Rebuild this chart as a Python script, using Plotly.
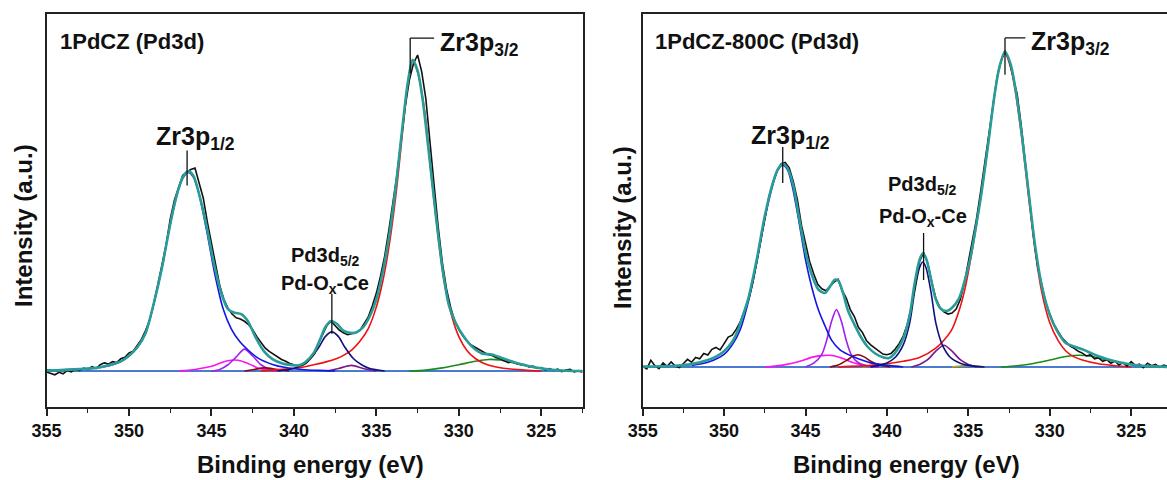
import plotly.graph_objects as go

# ---------------- LEFT PANEL: 1PdCZ ----------------
# raw data, 0.25 eV steps starting at 355 eV (rows of 1 eV)
L_raw = [
    -0.3, -0.8, -1.2, -0.4,
    -0.9, 0.2, -0.3, 0.6,
    0.1, 0.9, 0.5, 1.4,
    0.8, 2.0, 2.6, 2.2,
    3.0, 2.7, 3.9, 4.4,
    5.8, 6.3, 8.4, 10.1,
    12.9, 16.3, 21.5, 27.4,
    34.0, 40.5, 48.6, 54.6,
    58.8, 62.5, 63.6, 64.4,
    64.9, 60.4, 55.3, 47.6,
    40.6, 34.2, 27.3, 22.9,
    20.1, 18.2, 17.0, 16.6,
    15.9, 14.8, 13.2, 11.0,
    9.2, 7.4, 6.3, 5.4,
    4.5, 3.7, 3.1, 2.4,
    2.0, 1.6, 1.8, 2.5,
    3.9, 5.6, 8.9, 11.8,
    14.6, 15.9, 14.4, 13.1,
    12.2, 11.6, 11.9, 12.2,
    13.0, 14.9, 17.2, 20.8,
    24.9, 30.3, 36.6, 44.8,
    53.5, 62.8, 74.0, 84.6,
    93.0, 98.3, 101.0, 95.6,
    87.0, 74.2, 59.5, 46.0,
    34.6, 26.3, 20.4, 16.0,
    13.2, 11.2, 9.5, 8.3,
    7.5, 6.7, 6.1, 5.3,
    5.0, 4.3, 3.9, 3.4,
    2.7, 3.0, 2.3, 2.0,
    2.1, 1.3, 1.6, 0.8,
    1.1, 0.4, 0.8, 0.2,
    0.6, -0.2, 0.3, 0.5,
    -0.3, 0.1, -0.4,
]
RAW_START = 355.0
RAW_STEP = 0.25

L_env_x = [355, 354, 353, 352, 351, 350.5, 350, 349.5, 349, 348.5, 348, 347.7, 347.3, 347, 346.7, 346.4,
           346.1, 345.7, 345.3, 344.9, 344.4, 344, 343.6, 343.2, 342.8, 342.3, 341.8, 341.3, 340.7, 340.2,
           339.7, 339.3, 338.8, 338.4, 338.1, 337.75, 337.4, 337.0, 336.6, 336.2, 335.8, 335.4, 335.0,
           334.6, 334.2, 333.8, 333.4, 333.1, 332.8, 332.5, 332.2, 331.8, 331.4, 331.0, 330.6, 330.2,
           329.7, 329.2, 328.6, 328.0, 327.3, 326.5, 325.5, 324.5, 323.5, 322.5]
L_env_y = [0.2, 0.3, 0.6, 1.0, 2.2, 3.1, 4.9, 7.6, 12.1, 21.6, 33.1, 41.5, 52, 58.2, 62.3, 63.8,
           62.4, 55.5, 46.3, 35.5, 24.8, 19.8, 18.6, 18.2, 16, 10.5, 6.2, 3.8, 2.4, 1.9,
           1.8, 2.9, 5.8, 10.3, 14, 16, 15.1, 12.9, 12.2, 12.4, 14, 17.5, 23,
           32, 44, 60, 79, 92, 99.5, 96, 87, 69, 50, 33, 21, 15.5,
           11, 7.8, 5.6, 5.3, 4.0, 2.6, 1.3, 0.5, 0.1, 0]

L_blue_x = [355, 353, 352, 351, 350.5, 350, 349.5, 349, 348.5, 348, 347.5, 347, 346.7, 346.4, 346.1, 345.8,
            345.3, 344.8, 344.3, 343.8, 343.3, 342.8, 342.2, 341.3, 340.5, 339.5, 338.5, 337.5]
L_blue_y = [0.3, 0.6, 1.0, 2.0, 3.0, 4.8, 7.5, 12, 21.5, 33, 47, 58, 62, 63.5, 62, 57.5,
            45, 31, 20, 13.5, 9.5, 6.8, 4.2, 2.1, 1.1, 0.5, 0.2, 0]
L_violet_x = [345, 344.5, 344, 343.5, 343.0, 342.5, 342, 341.5, 341]
L_violet_y = [0, 0.5, 2, 4.5, 7, 4.8, 2, 0.6, 0]
L_magenta_x = [347, 346, 345, 344.5, 344, 343.6, 343.2, 342.7, 342.2, 341.5, 341]
L_magenta_y = [0, 0.5, 1.5, 2.5, 3.3, 3.5, 3.2, 2.2, 1.0, 0.3, 0]
L_darkred_x = [343, 342.5, 341.8, 341, 340.3]
L_darkred_y = [0, 0.4, 1.0, 0.5, 0]
L_navy_x = [341, 340, 339.5, 339, 338.5, 338.1, 337.7, 337.3, 336.9, 336.4, 335.9, 335.4, 334.5]
L_navy_y = [0, 0.8, 2, 4, 7.5, 11, 12.5, 11, 7.5, 4, 2, 0.8, 0]
L_purple_x = [338, 337.3, 336.5, 335.8, 335]
L_purple_y = [0, 0.8, 1.8, 0.8, 0]
L_red_x = [342, 340.5, 339.5, 338.8, 338, 337.4, 337, 336.5, 336, 335.5, 335, 334.6, 334.2, 333.8, 333.4,
           333.1, 332.8, 332.5, 332.1, 331.7, 331.3, 330.9, 330.4, 330, 329.5, 329, 328.5, 328, 327, 326, 325]
L_red_y = [0, 0.6, 1.2, 2.0, 3.0, 4.0, 5, 6.7, 9.5, 13.5, 20.5, 29, 41, 57, 77,
           91, 99, 95.5, 84, 64, 45, 29, 17, 11, 6.5, 4, 2.5, 1.6, 0.7, 0.3, 0]
L_green_x = [333, 332, 331, 330, 329, 328.2, 327.5, 326.5, 325.5, 324.5, 323.5, 322.5]
L_green_y = [0, 0.3, 1.0, 2.0, 3.1, 3.7, 3.5, 2.4, 1.2, 0.5, 0.1, 0]

# ---------------- RIGHT PANEL: 1PdCZ-800C ----------------
R_raw = [
    0.2, -0.6, 2.1, 0.4,
    -0.5, 1.3, 0.2, 1.6,
    0.3, -0.2, 1.1, 2.4,
    1.5, 3.0, 2.6, 4.3,
    3.8, 5.6, 6.2, 5.4,
    7.4, 9.5, 10.1, 12.0,
    14.4, 17.6, 21.3, 26.5,
    33.0, 39.8, 46.9, 54.0,
    58.6, 62.1, 64.5, 64.9,
    63.2, 58.9, 53.1, 45.0,
    39.1, 33.5, 29.6, 26.2,
    24.8, 24.2, 25.6, 26.9,
    27.8, 24.3, 21.9, 18.2,
    16.0, 12.6, 10.9, 8.3,
    7.0, 6.1, 5.2, 4.1,
    3.9, 4.3, 5.6, 7.4,
    9.8, 13.5, 18.9, 26.0,
    33.4, 36.3, 33.0, 27.1,
    21.8, 18.9, 17.5, 16.8,
    17.1, 18.4, 21.3, 26.5,
    33.0, 39.6, 47.0, 55.5,
    64.5, 73.5, 83.5, 91.5,
    97.0, 100.3, 97.5, 92.0,
    86.5, 76.5, 64.5, 52.0,
    41.5, 32.0, 25.8, 20.5,
    16.9, 13.6, 11.4, 9.3,
    7.9, 6.6, 5.9, 5.0,
    4.4, 3.5, 3.9, 2.6,
    2.9, 1.8, 2.3, 1.2,
    1.9, 0.6, 1.4, 0.3,
    1.7, 0.5, 0.9, -0.2,
    1.2, 0.4, 0.8, -0.1,
    0.6, 0.2, 0.5,
]

R_env_x = [355, 353, 352, 351, 350.5, 350, 349.5, 349.2, 348.8, 348.5, 348, 347.5, 347, 346.7, 346.4, 346.1,
           345.75, 345.4, 345, 344.6, 344.2, 343.8, 343.5, 343.2, 343.0, 342.7, 342.4, 342.0, 341.6, 341.2,
           340.7, 340.2, 339.9, 339.5, 339.0, 338.6, 338.3, 338.0, 337.8, 337.6, 337.3, 337.0, 336.7,
           336.3, 336.0, 335.6, 335.3, 334.9, 334.6, 334.2, 333.8, 333.4, 333.1, 332.75, 332.4, 332.1,
           331.7, 331.3, 330.9, 330.5, 330.0, 329.5, 329.0, 328.5, 328.0, 327.5, 327.0, 326.0, 325.0,
           324.0, 322.5]
R_env_y = [0.1, 0.4, 0.9, 2.2, 3.3, 5, 8, 11, 17, 22, 34, 48, 58.5, 62.8, 64.5, 63,
           57.5, 47.5, 36.5, 29, 24.5, 23.5, 25.5, 27.7, 27.5, 23.5, 18, 13.5, 9.5, 6.5,
           4.2, 3.0, 2.8, 4.5, 9, 16.5, 26.5, 34, 36, 34.5, 28, 21.5, 18.5,
           17.8, 18.8, 21.5, 26, 34, 42.5, 55, 70, 86, 95, 100, 96, 88,
           73, 55.5, 38.5, 26, 16.5, 11, 7.5, 6.5, 5.6, 4.5, 3.4, 1.8, 0.8,
           0.3, 0]

R_blue_x = [352, 351, 350, 349.5, 349, 348.5, 348, 347.5, 347, 346.7, 346.4, 346.1, 345.8, 345.4, 345,
            344.6, 344.2, 343.8, 343.4, 342.9, 342.4, 341.8, 341, 340, 339]
R_blue_y = [0.5, 1.5, 4, 7, 12, 21, 33, 47, 58, 62.5, 64, 62.5, 57, 46, 34,
            25, 18, 13, 8.5, 5.5, 4.0, 2.7, 1.3, 0.5, 0]
R_violet_x = [345, 344.5, 344, 343.7, 343.4, 343.1, 342.8, 342.5, 342.2, 341.8, 341.2, 340.5]
R_violet_y = [0, 1.2, 4, 8.5, 14.5, 18.2, 14.5, 8.5, 4, 1.5, 0.3, 0]
R_magenta_x = [347.5, 346.5, 345.5, 345, 344.5, 344, 343.6, 343.2, 342.7, 342.2, 341.5, 340.5]
R_magenta_y = [0, 0.5, 1.6, 2.4, 3.2, 3.6, 3.7, 3.5, 2.7, 1.6, 0.6, 0]
R_darkred_x = [343.5, 343, 342.5, 342.1, 341.8, 341.4, 341, 340.5, 339.8]
R_darkred_y = [0, 0.6, 2, 3.4, 3.9, 3.2, 1.8, 0.7, 0]
R_navy_x = [341, 340.5, 340, 339.5, 339, 338.6, 338.3, 338.0, 337.8, 337.6, 337.3, 337, 336.6, 336.1,
            335.5, 335, 334]
R_navy_y = [0, 0.5, 1.3, 3, 7, 14, 24, 31.5, 33.3, 31.5, 24, 14, 7, 3, 1.2, 0.5, 0]
R_purple_x = [338.5, 338, 337.5, 337, 336.5, 336, 335.5, 335, 334.5]
R_purple_y = [0, 0.8, 2.3, 5, 6.9, 5, 2.3, 0.8, 0]
R_olive_x = [341.5, 340.8, 340.2, 339.6, 339, None, 336, 335.4, 335.0, 334.5, 334]
R_olive_y = [0, 0.4, 0.6, 0.4, 0, None, 0, 0.4, 0.5, 0.3, 0]
R_red_x = [343, 341, 340, 339, 338, 337, 336.5, 336, 335.5, 335.2, 334.9, 334.6, 334.2, 333.8, 333.4,
           333.1, 332.75, 332.4, 332.1, 331.7, 331.3, 330.9, 330.5, 330.0, 329.5, 329, 328.5, 328, 327,
           326, 325]
R_red_y = [0, 0.5, 1, 1.8, 3, 6, 8.5, 12, 19, 25, 33, 42, 55, 70, 86,
           95, 99.5, 95, 87, 72, 54, 37, 24, 14, 8.5, 5, 3.2, 2.2, 1,
           0.4, 0]
R_green_x = [333, 332, 331, 330, 329, 328.2, 327.5, 326.5, 325.5, 324.5, 323.5, 322.5]
R_green_y = [0, 0.4, 1.1, 2.2, 3.3, 3.7, 3.4, 2.3, 1.2, 0.4, 0.1, 0]

BASE_X = [355, 322.5]
BASE_Y = [0, 0]

# ---------------- styling ----------------
C_BLACK = "#111111"
C_TEAL = "#2A9C98"
C_BLUE = "#1414E6"
C_RED = "#F01010"
C_NAVY = "#10107A"
C_VIOLET = "#A020F0"
C_MAGENTA = "#FF10F0"
C_DARKRED = "#8B0A0A"
C_PURPLE = "#7A1A8A"
C_OLIVE = "#B8A800"
C_GREEN = "#1A8A1A"
C_BASE = "#4A7BD0"
FONT = "Liberation Sans, Arial, sans-serif"

fig = go.Figure()


def comp(x, y, color, xa, ya, width=1.6):
    fig.add_trace(go.Scatter(x=x, y=y, mode="lines", xaxis=xa, yaxis=ya,
                             line=dict(color=color, width=width, shape="spline", smoothing=0.8),
                             connectgaps=False, showlegend=False, hoverinfo="skip"))


def raw_trace(vals, xa, ya):
    xs = [RAW_START - RAW_STEP * i for i in range(len(vals))]
    fig.add_trace(go.Scatter(x=xs, y=vals, mode="lines", xaxis=xa, yaxis=ya,
                             line=dict(color=C_BLACK, width=1.6), showlegend=False, hoverinfo="skip"))


# left panel traces
fig.add_trace(go.Scatter(x=BASE_X, y=BASE_Y, mode="lines", xaxis="x", yaxis="y",
                         line=dict(color=C_BASE, width=2), showlegend=False))
comp(L_magenta_x, L_magenta_y, C_MAGENTA, "x", "y")
comp(L_violet_x, L_violet_y, C_VIOLET, "x", "y")
comp(L_darkred_x, L_darkred_y, C_DARKRED, "x", "y")
comp(L_purple_x, L_purple_y, C_PURPLE, "x", "y")
comp(L_green_x, L_green_y, C_GREEN, "x", "y")
comp(L_red_x, L_red_y, C_RED, "x", "y")
comp(L_blue_x, L_blue_y, C_BLUE, "x", "y")
comp(L_navy_x, L_navy_y, C_NAVY, "x", "y")
raw_trace(L_raw, "x", "y")
comp(L_env_x, L_env_y, C_TEAL, "x", "y", width=2.6)

# right panel traces
fig.add_trace(go.Scatter(x=BASE_X, y=BASE_Y, mode="lines", xaxis="x2", yaxis="y2",
                         line=dict(color=C_BASE, width=2), showlegend=False))
comp(R_olive_x, R_olive_y, C_OLIVE, "x2", "y2")
comp(R_magenta_x, R_magenta_y, C_MAGENTA, "x2", "y2")
comp(R_violet_x, R_violet_y, C_VIOLET, "x2", "y2")
comp(R_darkred_x, R_darkred_y, C_DARKRED, "x2", "y2")
comp(R_purple_x, R_purple_y, C_PURPLE, "x2", "y2")
comp(R_green_x, R_green_y, C_GREEN, "x2", "y2")
comp(R_red_x, R_red_y, C_RED, "x2", "y2")
comp(R_blue_x, R_blue_y, C_BLUE, "x2", "y2")
comp(R_navy_x, R_navy_y, C_NAVY, "x2", "y2")
raw_trace(R_raw, "x2", "y2")
comp(R_env_x, R_env_y, C_TEAL, "x2", "y2", width=2.6)

W, H = 1167, 480
ydom = [1 - 407 / H, 1 - 14 / H]

xcommon = dict(showline=True, linecolor="#222222", linewidth=1.5, mirror=True,
               ticks="outside", ticklen=7, tickwidth=1.5, tickcolor="#222222",
               dtick=5, tick0=0, showgrid=False, zeroline=False, automargin=False,
               tickfont=dict(family=FONT, size=18, color="#111111", weight="bold"),
               minor=dict(dtick=2.5, tick0=0, ticks="outside", ticklen=4, tickwidth=1.3,
                          tickcolor="#222222", showgrid=False))

fig.update_layout(
    width=W, height=H,
    margin=dict(l=0, r=0, t=0, b=0, autoexpand=False),
    paper_bgcolor="white", plot_bgcolor="white",
    font=dict(family=FONT, color="#111111"),
    xaxis=dict(domain=[46.6 / W, 582.5 / W], range=[355, 322.5], anchor="y", **xcommon),
    yaxis=dict(domain=ydom, range=[-11.5, 114.1], showticklabels=False, ticks="",
               showline=True, linecolor="#222222", linewidth=1.5, mirror=True, automargin=False,
               showgrid=False, zeroline=False, anchor="x"),
    xaxis2=dict(domain=[642.7 / W, 1.0], range=[355, 322.8], anchor="y2", **xcommon),
    yaxis2=dict(domain=ydom, range=[-12.7, 112], showticklabels=False, ticks="",
                showline=True, linecolor="#222222", linewidth=1.5, mirror=False, automargin=False,
                showgrid=False, zeroline=False, anchor="x2"),
)

# ---------------- labels ----------------
def ann(text, x, y, xref, yref, size, xanchor="center", yanchor="middle", angle=0):
    fig.add_annotation(text=text, x=x, y=y, xref=xref, yref=yref, showarrow=False,
                       xanchor=xanchor, yanchor=yanchor, textangle=angle,
                       font=dict(family=FONT, size=size, color="#111111", weight="bold"))


# panel titles and axis titles (paper coordinates)
ann("1PdCZ (Pd3d)", 58 / W, 1 - 41 / H, "paper", "paper", 22, xanchor="left")
ann("1PdCZ-800C (Pd3d)", 653 / W, 1 - 41 / H, "paper", "paper", 22, xanchor="left")
ann("Binding energy (eV)", 310 / W, 1 - 464 / H, "paper", "paper", 24)
ann("Binding energy (eV)", 907 / W, 1 - 464 / H, "paper", "paper", 24)
ann("Intensity (a.u.)", 23 / W, 1 - 226 / H, "paper", "paper", 24, angle=-90)
ann("Intensity (a.u.)", 622 / W, 1 - 228 / H, "paper", "paper", 24, angle=-90)

# peak labels (data coordinates)
ann("Zr3p<sub>1/2</sub>", 345.95, 74.5, "x", "y", 25)
ann("Zr3p<sub>3/2</sub>", 331.25, 104.5, "x", "y", 25, xanchor="left")
ann("Pd3d<sub>5/2</sub>", 338.1, 36.5, "x", "y", 20)
ann("Pd-O<sub>x</sub>-Ce", 338.1, 27.5, "x", "y", 20)

ann("Zr3p<sub>1/2</sub>", 345.9, 73, "x2", "y2", 25)
ann("Zr3p<sub>3/2</sub>", 331.27, 102.8, "x2", "y2", 25, xanchor="left")
ann("Pd3d<sub>5/2</sub>", 337.8, 57.5, "x2", "y2", 20)
ann("Pd-O<sub>x</sub>-Ce", 337.8, 47.3, "x2", "y2", 20)

# marker lines
def seg(x0, y0, x1, y1, xref, yref):
    fig.add_shape(type="line", x0=x0, y0=y0, x1=x1, y1=y1, xref=xref, yref=yref,
                  line=dict(color="#111111", width=1.3))


seg(346.48, 59.3, 346.48, 70.5, "x", "y")
seg(332.95, 95.2, 332.95, 106.4, "x", "y")
seg(332.95, 106.4, 331.5, 106.4, "x", "y")
seg(337.7, 11.9, 337.7, 24.7, "x", "y")

seg(346.4, 58.4, 346.4, 69.8, "x2", "y2")
seg(332.75, 92.7, 332.75, 104.4, "x2", "y2")
seg(332.75, 104.4, 331.5, 104.4, "x2", "y2")
seg(337.75, 27.6, 337.75, 42.5, "x2", "y2")

fig.write_html("out.html")
